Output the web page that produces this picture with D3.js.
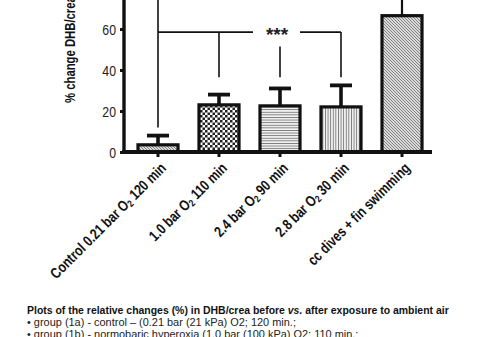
<!DOCTYPE html>
<html>
<head>
<meta charset="utf-8">
<script src="https://cdn.jsdelivr.net/npm/d3@7"></script>
<style>
  html, body { margin: 0; padding: 0; background: #fff; }
  svg { display: block; }
  text { font-family: "Liberation Sans", Arial, Helvetica, sans-serif; }
</style>
</head>
<body>
<script>
// ---- data ----
const categories = ["Control 0.21 bar O|2| 120 min", "1.0 bar O|2| 110 min", "2.4 bar O|2| 90 min", "2.8 bar O|2| 30 min", "cc dives + fin swimming"];
const means      = [3.5, 23, 22.5, 22, 66.5];
const errUpper   = [8, 28, 31, 32.5, null];
const patterns   = ["diag", "check", "horiz", "vert", "diag"];
const yTicks     = [0, 20, 40, 60];
const yLabel     = "% change DHB/crea";
// significance bracket (lower): level, and where each leg stops
const bracketLevel = 58.5;
const bracketLegEnds = [12, 36.5, 36.5, 36.5];
const bracketLabel = "***";
// upper bracket (control vs cc dives), mostly above the visible area
const upperBracketLevel = 90;
const upperBracketLegs = [[0, 58.5], [4, 66.5]];
const captionTitle = "Plots of the relative changes (%) in DHB/crea before |vs.| after exposure to ambient air";
const captionLines = [
  "• group (1a) - control – (0.21 bar (21 kPa) O2; 120 min.;",
  "• group (1b) - normobaric hyperoxia (1.0 bar (100 kPa) O2; 110 min.;"
];

// ---- drawing ----
const W = 480, H = 337;
const svg = d3.select("body").append("svg").attr("width", W).attr("height", H);
const defs = svg.append("defs");

// patterns
const pd = defs.append("pattern").attr("id", "p-diag").attr("patternUnits", "userSpaceOnUse")
  .attr("width", 3).attr("height", 3);
pd.append("rect").attr("width", 3).attr("height", 3).attr("fill", "#dcdcdc");
pd.append("path").attr("d", "M-1,-1 L4,4 M-1,2 L1,4 M2,-1 L4,1").attr("stroke", "#666").attr("stroke-width", 0.8);

const pc = defs.append("pattern").attr("id", "p-check").attr("patternUnits", "userSpaceOnUse")
  .attr("width", 5).attr("height", 5);
pc.append("rect").attr("width", 5).attr("height", 5).attr("fill", "#fff");
pc.append("rect").attr("width", 2.5).attr("height", 2.5).attr("fill", "#222");
pc.append("rect").attr("x", 2.5).attr("y", 2.5).attr("width", 2.5).attr("height", 2.5).attr("fill", "#222");

const ph = defs.append("pattern").attr("id", "p-horiz").attr("patternUnits", "userSpaceOnUse")
  .attr("width", 4).attr("height", 2.6);
ph.append("rect").attr("width", 4).attr("height", 2.6).attr("fill", "#f2f2f2");
ph.append("rect").attr("y", 0).attr("width", 4).attr("height", 0.9).attr("fill", "#777");

const pv = defs.append("pattern").attr("id", "p-vert").attr("patternUnits", "userSpaceOnUse")
  .attr("width", 2.6).attr("height", 4);
pv.append("rect").attr("width", 2.6).attr("height", 4).attr("fill", "#f2f2f2");
pv.append("rect").attr("x", 0).attr("width", 0.9).attr("height", 4).attr("fill", "#777");

const x = d3.scaleBand().domain(d3.range(categories.length))
  .range([127.5, 432.5]).paddingInner(0.344).paddingOuter(0.172);
const y = d3.scaleLinear().domain([0, 60]).range([152, 29]);
const cx = i => x(i) + x.bandwidth() / 2;

// bars
svg.append("g").selectAll("rect").data(means).join("rect")
  .attr("x", (d, i) => x(i))
  .attr("y", d => y(d))
  .attr("width", x.bandwidth())
  .attr("height", d => y(0) - y(d))
  .attr("fill", (d, i) => `url(#p-${patterns[i]})`)
  .attr("stroke", "#111").attr("stroke-width", 3.2);

// error bars
const eb = svg.append("g").attr("stroke", "#111");
errUpper.forEach((e, i) => {
  if (e == null) return;
  eb.append("line").attr("x1", cx(i)).attr("x2", cx(i)).attr("y1", y(means[i])).attr("y2", y(e)).attr("stroke-width", 3.6);
  eb.append("line").attr("x1", cx(i) - 11).attr("x2", cx(i) + 11).attr("y1", y(e)).attr("y2", y(e)).attr("stroke-width", 3.8);
});

// significance brackets
const br = svg.append("g").attr("stroke", "#111").attr("stroke-width", 1.6).attr("fill", "none");
const labX = cx(2);
bracketLegEnds.forEach((v, i) => {
  // the leg under the label starts below it
  const top = (i === 2) ? bracketLevel - 7 : bracketLevel;
  br.append("line").attr("x1", cx(i)).attr("x2", cx(i)).attr("y1", y(top)).attr("y2", y(v));
});
br.append("line").attr("x1", cx(0)).attr("x2", labX - 27).attr("y1", y(bracketLevel)).attr("y2", y(bracketLevel));
br.append("line").attr("x1", labX + 20).attr("x2", cx(3)).attr("y1", y(bracketLevel)).attr("y2", y(bracketLevel));
svg.append("text").attr("x", labX - 3).attr("y", y(bracketLevel) + 9)
  .attr("text-anchor", "middle").attr("font-size", 19).attr("font-weight", "bold").attr("fill", "#222")
  .text(bracketLabel);
upperBracketLegs.forEach(([i, v]) => {
  br.append("line").attr("x1", cx(i)).attr("x2", cx(i)).attr("y1", y(upperBracketLevel)).attr("y2", y(v))
    .attr("stroke-width", i === 4 ? 2.2 : 1.6);
});
br.append("line").attr("x1", cx(0)).attr("x2", cx(4)).attr("y1", y(upperBracketLevel)).attr("y2", y(upperBracketLevel));

// axes
const yAxis = svg.append("g").attr("transform", "translate(124,0)")
  .call(d3.axisLeft(y).tickValues(yTicks).tickSize(4).tickPadding(4));
yAxis.select(".domain").remove();
yAxis.selectAll(".tick line").attr("stroke", "#111").attr("stroke-width", 3);
yAxis.selectAll(".tick text").attr("font-size", 15).attr("fill", "#222")
  .attr("font-family", "Liberation Sans, Arial, sans-serif").attr("dy", "0.36em")
  .each(function () {
    const t = d3.select(this), xx = +t.attr("x");
    t.attr("x", null).attr("transform", `translate(${xx},0) scale(0.82,1)`);
  });
svg.append("line").attr("x1", 124).attr("x2", 124).attr("y1", 0).attr("y2", y(0) + 2)
  .attr("stroke", "#111").attr("stroke-width", 3.4);

const xAxis = svg.append("g").attr("transform", `translate(0,${y(0)})`)
  .call(d3.axisBottom(x).tickSize(5).tickFormat(""));
xAxis.select(".domain").remove();
xAxis.selectAll(".tick line").attr("stroke", "#111").attr("stroke-width", 3);
svg.append("line").attr("x1", 122).attr("x2", 432).attr("y1", y(0)).attr("y2", y(0))
  .attr("stroke", "#111").attr("stroke-width", 4);

// x labels
categories.forEach((c, i) => {
  const t = svg.append("text")
    .attr("transform", `translate(${cx(i) + 9},169) rotate(-45) scale(0.8,1)`)
    .attr("text-anchor", "end").attr("font-size", 15).attr("font-weight", "bold").attr("fill", "#111");
  c.split("|").forEach((part, k) => {
    const ts = t.append("tspan").text(part);
    if (k % 2 === 1) ts.attr("font-size", 10).attr("dy", 2);
    else if (k > 0) ts.attr("dy", -2);
  });
});

// y label
svg.append("text").attr("transform", "translate(75,103) rotate(-90) scale(0.78,1)")
  .attr("font-size", 14.5).attr("font-weight", "bold").attr("fill", "#111")
  .text(yLabel);

// caption (condensed face emulated with horizontal scaling)
function condenseTo(sel, x0, target) {
  const len = sel.node().getComputedTextLength();
  const k = target / len;
  sel.attr("x", 0).attr("transform", `translate(${x0},${sel.attr("y")}) scale(${k},1)`).attr("y", 0);
  return k;
}
const ct = svg.append("text").attr("y", 313.5).attr("font-size", 11.8)
  .attr("font-weight", "bold").attr("fill", "#111");
captionTitle.split("|").forEach((part, k) => {
  ct.append("tspan").text(part).attr("font-style", k === 1 ? "italic" : null);
});
condenseTo(ct, 27, 422);
let kLine = null;
captionLines.forEach((l, k) => {
  const t = svg.append("text").attr("y", 325.8 + k * 12.3).attr("font-size", 11.8).attr("fill", "#222").text(l);
  if (kLine == null) kLine = condenseTo(t, 27, 269);
  else t.attr("transform", `translate(27,${t.attr("y")}) scale(${kLine},1)`).attr("y", 0);
});
</script>
</body>
</html>
